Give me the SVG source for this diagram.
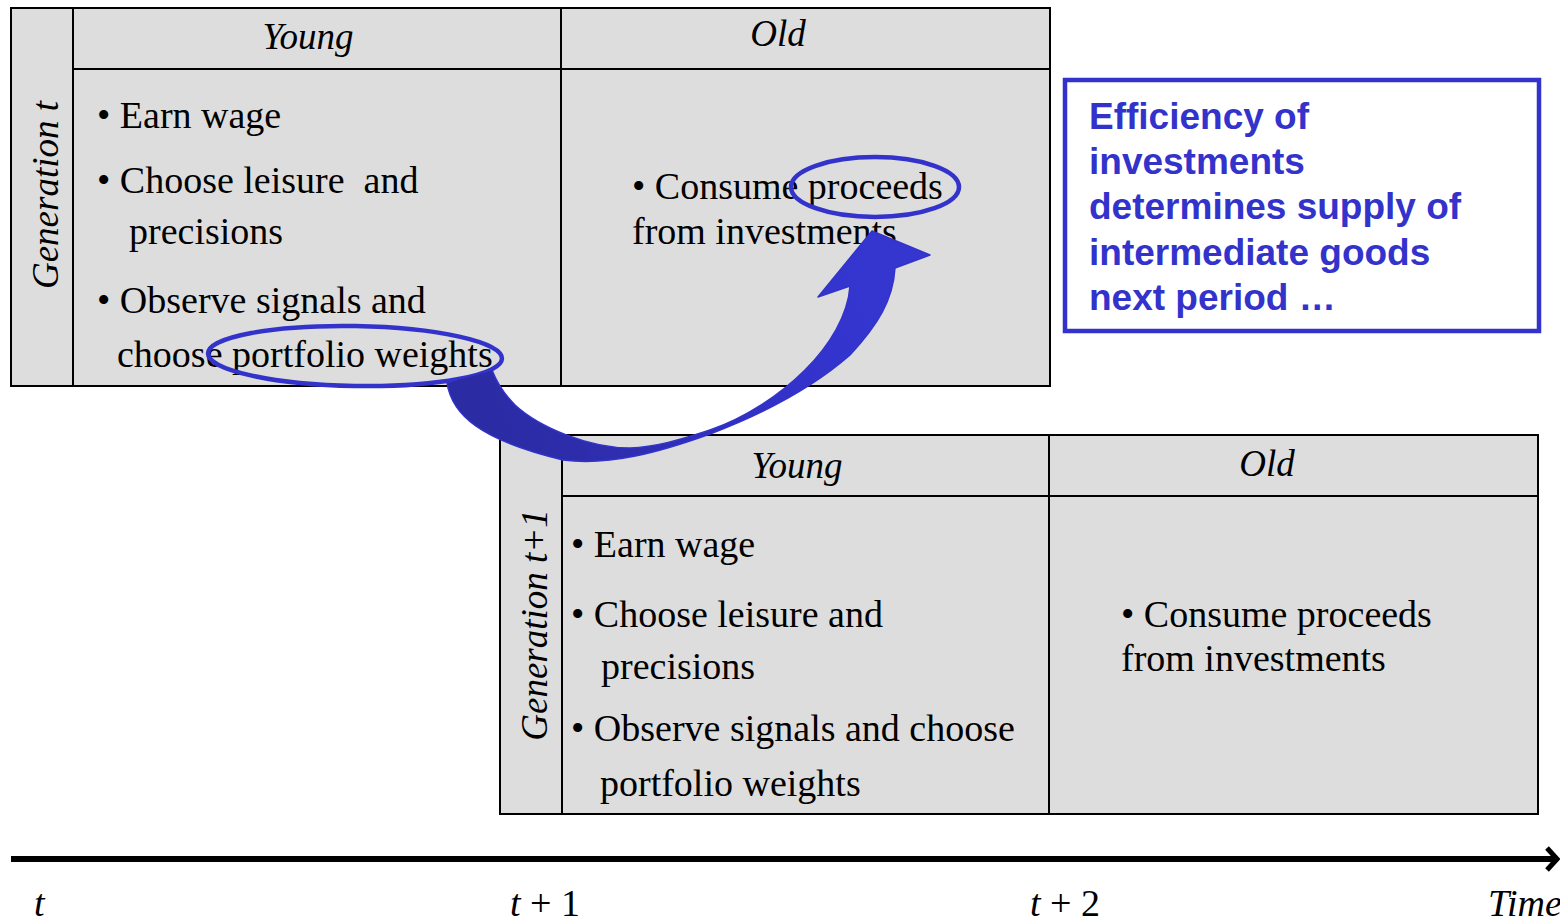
<svg xmlns="http://www.w3.org/2000/svg" width="1560" height="922" viewBox="0 0 1560 922">
<defs>
<style>
.cell{fill:#dddddd;stroke:#000;stroke-width:2}
.t{font-family:"Liberation Serif","Times New Roman",serif;font-size:38px;fill:#000}
.i{font-style:italic}
.h{font-family:"Liberation Serif","Times New Roman",serif;font-size:37px;font-style:italic;text-anchor:middle;fill:#000}
.b{font-family:"Liberation Sans",Arial,sans-serif;font-size:37px;font-weight:bold;fill:#3333cc}
.ring{fill:none;stroke:#3333cc;stroke-width:4.5}
</style>
<linearGradient id="ag" gradientUnits="userSpaceOnUse" x1="480" y1="440" x2="900" y2="260">
<stop offset="0" stop-color="#2b2ba3"/>
<stop offset="0.4" stop-color="#2f2fb6"/>
<stop offset="0.7" stop-color="#3333cc"/>
<stop offset="1" stop-color="#3535d0"/>
</linearGradient>
</defs>

<g id="gen-t">
<rect class="cell" x="11" y="8" width="1039" height="378"/>
<line x1="73" y1="8" x2="73" y2="386" stroke="#000" stroke-width="2"/>
<line x1="73" y1="69" x2="1050" y2="69" stroke="#000" stroke-width="2"/>
<line x1="561" y1="8" x2="561" y2="386" stroke="#000" stroke-width="2"/>
<text class="h" transform="translate(58,195) rotate(-90)">Generation t</text>
<text class="h" x="308" y="49">Young</text>
<text class="h" x="778" y="46">Old</text>
<text class="t" x="97" y="128">• Earn wage</text>
<text class="t" x="97" y="193" xml:space="preserve">• Choose leisure  and</text>
<text class="t" x="129" y="244">precisions</text>
<text class="t" x="97" y="313">• Observe signals and</text>
<text class="t" x="117" y="367">choose portfolio weights</text>
<text class="t" x="632" y="199">• Consume proceeds</text>
<text class="t" x="632" y="244">from investments</text>
</g>

<g id="gen-t1">
<rect class="cell" x="500" y="435" width="1038" height="379"/>
<line x1="562" y1="435" x2="562" y2="814" stroke="#000" stroke-width="2"/>
<line x1="562" y1="496" x2="1538" y2="496" stroke="#000" stroke-width="2"/>
<line x1="1049" y1="435" x2="1049" y2="814" stroke="#000" stroke-width="2"/>
<text class="h" transform="translate(547,625) rotate(-90)">Generation t+1</text>
<text class="h" x="797" y="478">Young</text>
<text class="h" x="1267" y="476">Old</text>
<text class="t" x="571" y="557">• Earn wage</text>
<text class="t" x="571" y="627">• Choose leisure and</text>
<text class="t" x="601" y="679">precisions</text>
<text class="t" x="571" y="741">• Observe signals and choose</text>
<text class="t" x="600" y="796">portfolio weights</text>
<text class="t" x="1121" y="627">• Consume proceeds</text>
<text class="t" x="1121" y="671">from investments</text>
</g>

<g id="note">
<rect x="1065" y="80" width="474" height="251" fill="#fff" stroke="#3333cc" stroke-width="4.5"/>
<text class="b" x="1089" y="129">Efficiency of</text>
<text class="b" x="1089" y="174">investments</text>
<text class="b" x="1089" y="219">determines supply of</text>
<text class="b" x="1089" y="265">intermediate goods</text>
<text class="b" x="1089" y="310">next period …</text>
</g>

<g id="highlights">
<ellipse class="ring" cx="355" cy="356" rx="147" ry="30" transform="rotate(1 355 356)"/>
<ellipse class="ring" cx="875" cy="187" rx="84" ry="30"/>
</g>

<g id="connectors">
<path d="M447,383 C452,415 480,440 563,460 C610,466 660,452 710,434 C760,415 810,390 850,355 C878,325 893,300 895,268 L930,255 L872,231 L818,297 L850,286 C848,315 830,345 805,370 C780,395 745,418 710,430 C680,440 655,447 630,448 C590,448 540,428 515,405 C505,395 497,383 492,370 C478,374 460,378 447,383 Z" fill="url(#ag)" stroke="#3333cc" stroke-width="1.5" stroke-linejoin="round"/>
<line x1="11" y1="859" x2="1554" y2="859" stroke="#000" stroke-width="6"/>
<polyline points="1547,848 1557,859 1547,870" fill="none" stroke="#000" stroke-width="5" stroke-linejoin="miter"/>
</g>

<g id="timeline-labels">
<text class="t i" x="34" y="916">t</text>
<text class="t" x="510" y="916"><tspan class="i">t</tspan> + 1</text>
<text class="t" x="1030" y="916"><tspan class="i">t</tspan> + 2</text>
<text class="t i" x="1488" y="916">Time</text>
</g>
</svg>
